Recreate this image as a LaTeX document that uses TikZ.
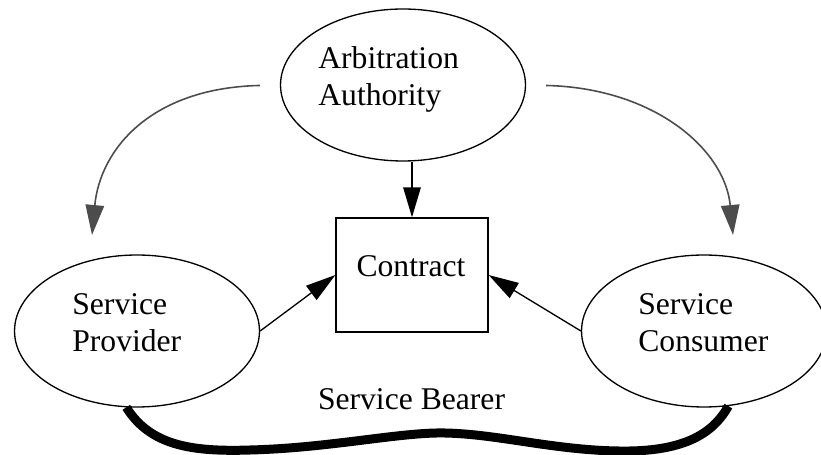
\documentclass[tikz,border=0pt]{standalone}
\usepackage{fontspec}
\setmainfont{Liberation Serif}
\usetikzlibrary{shapes.geometric,arrows.meta}
\definecolor{arrowgray}{gray}{0.3}
\begin{document}
\begin{tikzpicture}[x=0.02cm,y=-0.02cm,
	party/.style={draw,ellipse,line width=0.75pt,minimum width=4.9cm,minimum height=3.04cm},
	txt/.style={inner sep=0pt,align=left,font=\fontsize{18pt}{21pt}\selectfont},
	blackarrow/.style={line width=0.75pt,-{Triangle[length=0.6cm,width=0.35cm]}},
	grayarrow/.style={color=arrowgray,line width=0.9pt,shorten <=0.4cm,-{Triangle[length=0.6cm,width=0.37cm]}}]
	\useasboundingbox (0,0) rectangle (821,455);
	\clip (0,0) rectangle (821,455);
	\node[party] (arb) at (403,85) {};
	\node[party] (prov) at (137,331) {};
	\node[party] (cons) at (704,331) {};
	\node[draw,line width=0.75pt,minimum width=3.04cm,minimum height=2.28cm] (contract) at (412,275) {};
	\node[txt,anchor=west] (arbtxt) at (318,79) {Arbitration\\Authority};
	\node[txt,anchor=west] (provtxt) at (72,323) {Service\\Provider};
	\node[txt,anchor=west] (constxt) at (638,323) {Service\\Consumer};
	\node[txt] (contracttxt) at (411,266) {Contract};
	\node[txt] (bearer) at (411.5,399) {Service Bearer};
	\coordinate (provin) at (92,235);
	\coordinate (consin) at (733,235);
	\draw[grayarrow] (arb.west) .. controls (150,88) and (100,150) .. (provin);
	\draw[grayarrow] (arb.east) .. controls (655,88) and (725,150) .. (consin);
	\draw[blackarrow] (contract.north |- arb.south) -- (contract.north);
	\draw[blackarrow] (prov.east) -- (contract.west);
	\draw[blackarrow] (cons.west) -- (contract.east);
	\draw[line width=0.18cm] (prov.262) .. controls (150,445) and (190,452) .. (250,450)
		.. controls (330,448) and (400,432) .. (445,433)
		.. controls (500,434) and (560,452) .. (630,451)
		.. controls (690,450) and (715,430) .. (cons.288);
\end{tikzpicture}
\end{document}
